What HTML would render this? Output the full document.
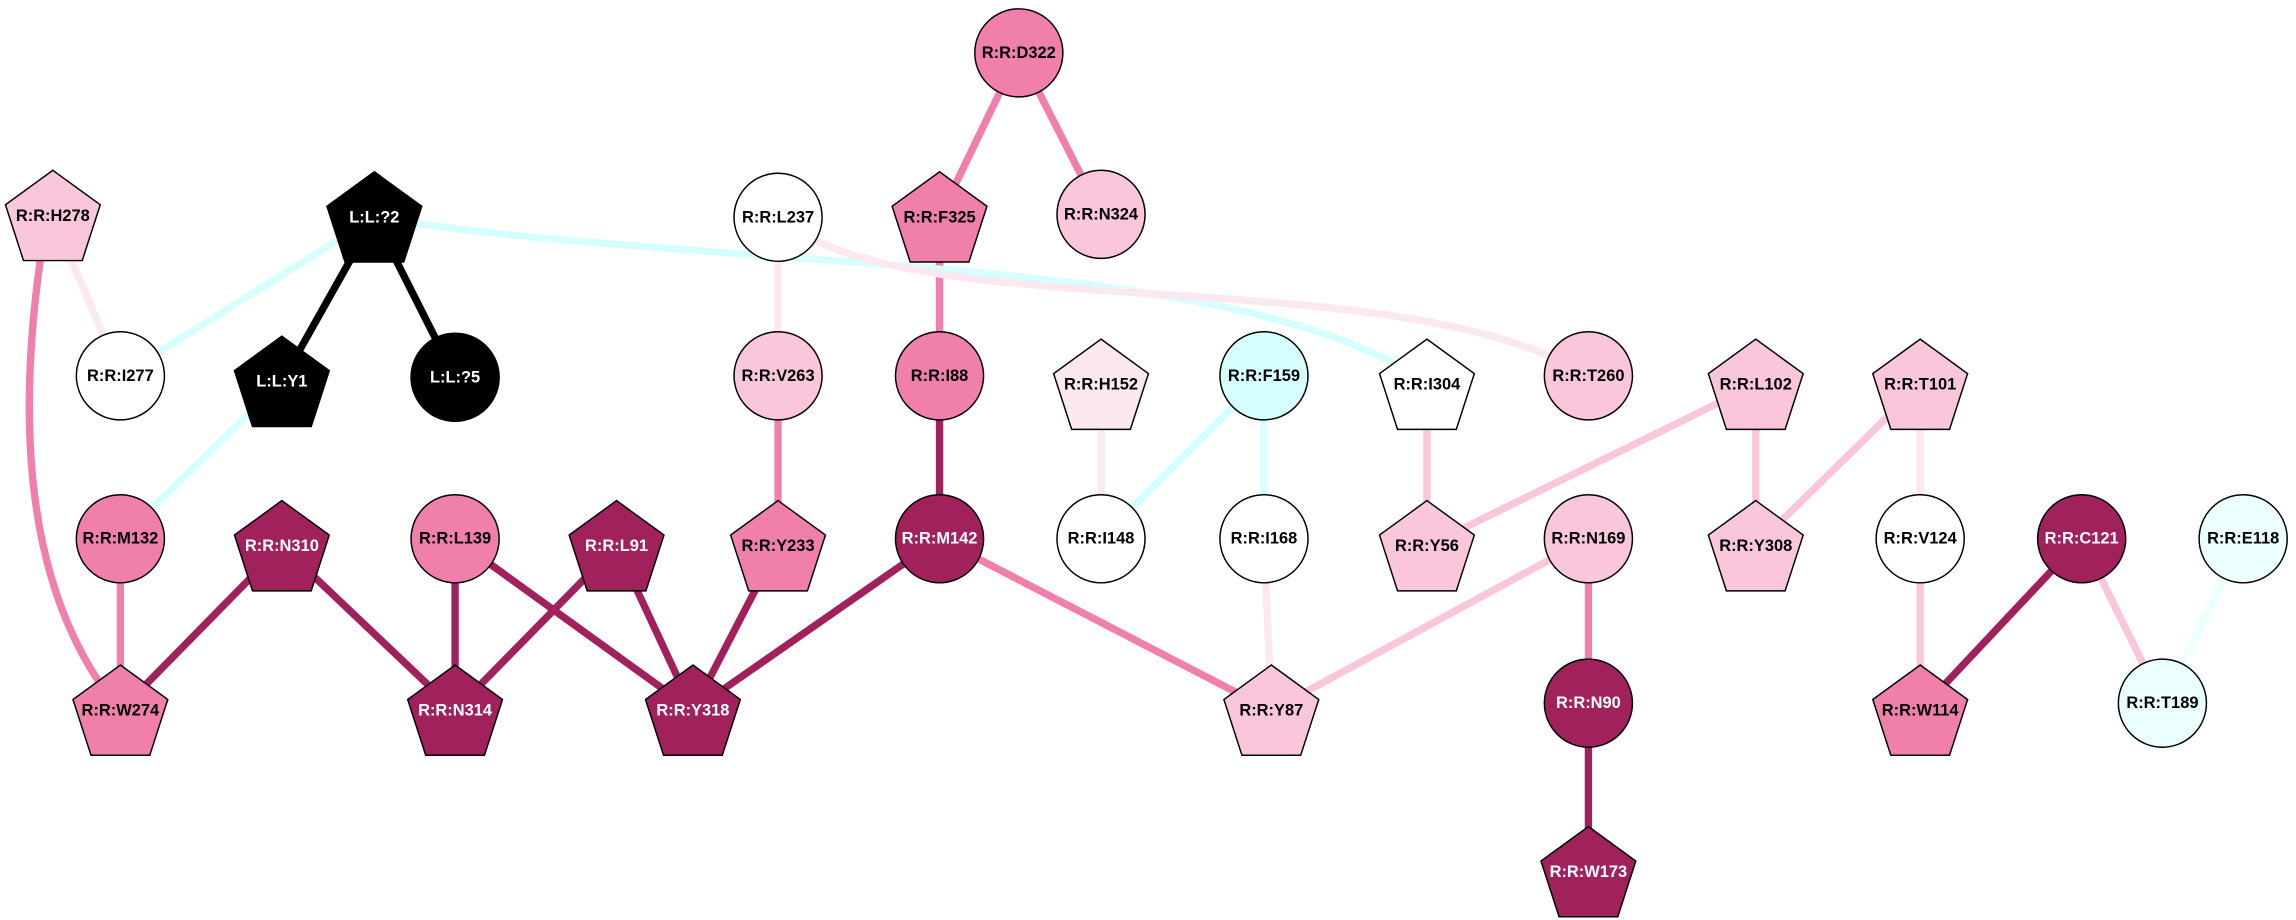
<!DOCTYPE html>
<html><head><meta charset="utf-8"><style>
html,body{margin:0;padding:0;background:#fff;}
svg{display:block}
text{font-family:"Liberation Sans",Arial,sans-serif;font-weight:bold;font-size:11.2px;text-anchor:middle;dominant-baseline:central}
</style></head><body>
<svg width="2296" height="920" viewBox="0 0 1564 626.7" preserveAspectRatio="none">
<defs>
<polygon id="p" points="0,-34 32.3,-10.5 20,27.5 -20,27.5 -32.3,-10.5" stroke="#000" stroke-width="1"/>
</defs>
<g fill="none" stroke-width="5" stroke-linecap="round">
<line x1="694" y1="36" x2="640" y2="148" stroke="#F07FAB"/>
<line x1="694" y1="36" x2="750" y2="146" stroke="#F07FAB"/>
<line x1="640" y1="148" x2="640" y2="256" stroke="#F07FAB"/>
<line x1="640" y1="256" x2="640" y2="367" stroke="#A0215B"/>
<path d="M30,160 Q-5,380 82,484" stroke="#F07FAB"/>
<line x1="36" y1="147" x2="82" y2="256" stroke="#FCE8F0"/>
<line x1="255" y1="148" x2="82" y2="256" stroke="#D6FFFF"/>
<line x1="255" y1="148" x2="192" y2="260" stroke="#000"/>
<line x1="255" y1="148" x2="310" y2="257" stroke="#000"/>
<path d="M255,148 C480,185 850,170 972,262" stroke="#D6FFFF"/>
<path d="M530,148 C620,225 950,175 1082,256" stroke="#FCE8F0"/>
<line x1="530" y1="148" x2="530" y2="256" stroke="#FCE8F0"/>
<line x1="530" y1="256" x2="530" y2="372" stroke="#F07FAB"/>
<line x1="192" y1="260" x2="82" y2="367" stroke="#D6FFFF"/>
<line x1="82" y1="367" x2="82" y2="484" stroke="#F07FAB"/>
<line x1="192" y1="372" x2="82" y2="484" stroke="#A0215B"/>
<line x1="192" y1="372" x2="310" y2="484" stroke="#A0215B"/>
<line x1="310" y1="367" x2="310" y2="484" stroke="#A0215B"/>
<line x1="310" y1="367" x2="472" y2="484" stroke="#A0215B"/>
<line x1="420" y1="372" x2="310" y2="484" stroke="#A0215B"/>
<line x1="420" y1="372" x2="472" y2="484" stroke="#A0215B"/>
<line x1="530" y1="372" x2="472" y2="484" stroke="#A0215B"/>
<line x1="640" y1="367" x2="472" y2="484" stroke="#A0215B"/>
<line x1="640" y1="367" x2="866" y2="484" stroke="#F07FAB"/>
<line x1="750" y1="262" x2="750" y2="367" stroke="#FCE8F0"/>
<line x1="861" y1="256" x2="750" y2="367" stroke="#D6FFFF"/>
<line x1="861" y1="256" x2="861" y2="367" stroke="#D6FFFF"/>
<line x1="861" y1="367" x2="866" y2="484" stroke="#FCE8F0"/>
<line x1="972" y1="262" x2="972" y2="372" stroke="#F9C6DC"/>
<line x1="1196" y1="262" x2="972" y2="372" stroke="#F9C6DC"/>
<line x1="1196" y1="262" x2="1196" y2="372" stroke="#F9C6DC"/>
<line x1="1308" y1="262" x2="1196" y2="372" stroke="#F9C6DC"/>
<line x1="1308" y1="262" x2="1308" y2="367" stroke="#FCE8F0"/>
<line x1="1082" y1="367" x2="866" y2="484" stroke="#F9C6DC"/>
<line x1="1082" y1="367" x2="1082" y2="479" stroke="#F07FAB"/>
<line x1="1082" y1="479" x2="1082" y2="594" stroke="#A0215B"/>
<line x1="1308" y1="367" x2="1308" y2="484" stroke="#F9C6DC"/>
<line x1="1418" y1="367" x2="1308" y2="484" stroke="#A0215B"/>
<line x1="1418" y1="367" x2="1473" y2="479" stroke="#F9C6DC"/>
<line x1="1528" y1="367" x2="1473" y2="479" stroke="#EBFFFE"/>
</g>
<g stroke="#000" stroke-width="1">
<circle cx="694" cy="36" r="30" fill="#F07FAB"/>
<circle cx="530" cy="148" r="30" fill="#fff"/>
<circle cx="750" cy="146" r="30" fill="#F9C6DC"/>
<circle cx="82" cy="256" r="30" fill="#fff"/>
<circle cx="310" cy="257" r="30" fill="#000"/>
<circle cx="530" cy="256" r="30" fill="#F9C6DC"/>
<circle cx="640" cy="256" r="30" fill="#F07FAB"/>
<circle cx="861" cy="256" r="30" fill="#D6FFFF"/>
<circle cx="1082" cy="256" r="30" fill="#F9C6DC"/>
<circle cx="82" cy="367" r="30" fill="#F07FAB"/>
<circle cx="310" cy="367" r="30" fill="#F07FAB"/>
<circle cx="640" cy="367" r="30" fill="#A0215B"/>
<circle cx="750" cy="367" r="30" fill="#fff"/>
<circle cx="861" cy="367" r="30" fill="#fff"/>
<circle cx="1082" cy="367" r="30" fill="#F9C6DC"/>
<circle cx="1308" cy="367" r="30" fill="#fff"/>
<circle cx="1418" cy="367" r="30" fill="#A0215B"/>
<circle cx="1528" cy="367" r="30" fill="#EBFFFE"/>
<circle cx="1082" cy="479" r="30" fill="#A0215B"/>
<circle cx="1473" cy="479" r="30" fill="#EBFFFE"/>
</g>
<use href="#p" x="36" y="150" fill="#F9C6DC"/>
<use href="#p" x="255" y="151" fill="#000"/>
<use href="#p" x="640" y="151" fill="#F07FAB"/>
<use href="#p" x="192" y="263" fill="#000"/>
<use href="#p" x="750" y="265" fill="#FCE8F0"/>
<use href="#p" x="972" y="265" fill="#fff"/>
<use href="#p" x="1196" y="265" fill="#F9C6DC"/>
<use href="#p" x="1308" y="265" fill="#F9C6DC"/>
<use href="#p" x="192" y="375" fill="#A0215B"/>
<use href="#p" x="420" y="375" fill="#A0215B"/>
<use href="#p" x="530" y="375" fill="#F07FAB"/>
<use href="#p" x="972" y="375" fill="#F9C6DC"/>
<use href="#p" x="1196" y="375" fill="#F9C6DC"/>
<use href="#p" x="82" y="487" fill="#F07FAB"/>
<use href="#p" x="310" y="487" fill="#A0215B"/>
<use href="#p" x="472" y="487" fill="#A0215B"/>
<use href="#p" x="866" y="487" fill="#F9C6DC"/>
<use href="#p" x="1308" y="487" fill="#F07FAB"/>
<use href="#p" x="1082" y="597" fill="#A0215B"/>
<g fill="#000">
<text x="694" y="36">R:R:D322</text>
<text x="36" y="147">R:R:H278</text>
<text x="530" y="148">R:R:L237</text>
<text x="640" y="148">R:R:F325</text>
<text x="750" y="146">R:R:N324</text>
<text x="82" y="256">R:R:I277</text>
<text x="530" y="256">R:R:V263</text>
<text x="640" y="256">R:R:I88</text>
<text x="750" y="262">R:R:H152</text>
<text x="861" y="256">R:R:F159</text>
<text x="972" y="262">R:R:I304</text>
<text x="1082" y="256">R:R:T260</text>
<text x="1196" y="262">R:R:L102</text>
<text x="1308" y="262">R:R:T101</text>
<text x="82" y="367">R:R:M132</text>
<text x="310" y="367">R:R:L139</text>
<text x="530" y="372">R:R:Y233</text>
<text x="750" y="367">R:R:I148</text>
<text x="861" y="367">R:R:I168</text>
<text x="972" y="372">R:R:Y56</text>
<text x="1082" y="367">R:R:N169</text>
<text x="1196" y="372">R:R:Y308</text>
<text x="1308" y="367">R:R:V124</text>
<text x="1528" y="367">R:R:E118</text>
<text x="82" y="484">R:R:W274</text>
<text x="866" y="484">R:R:Y87</text>
<text x="1308" y="484">R:R:W114</text>
<text x="1473" y="479">R:R:T189</text>
</g>
<g fill="#fff">
<text x="255" y="148">L:L:?2</text>
<text x="192" y="260">L:L:Y1</text>
<text x="310" y="257">L:L:?5</text>
<text x="192" y="372">R:R:N310</text>
<text x="420" y="372">R:R:L91</text>
<text x="640" y="367">R:R:M142</text>
<text x="1418" y="367">R:R:C121</text>
<text x="310" y="484">R:R:N314</text>
<text x="472" y="484">R:R:Y318</text>
<text x="1082" y="479">R:R:N90</text>
<text x="1082" y="594">R:R:W173</text>
</g>
</svg>
</body></html>
